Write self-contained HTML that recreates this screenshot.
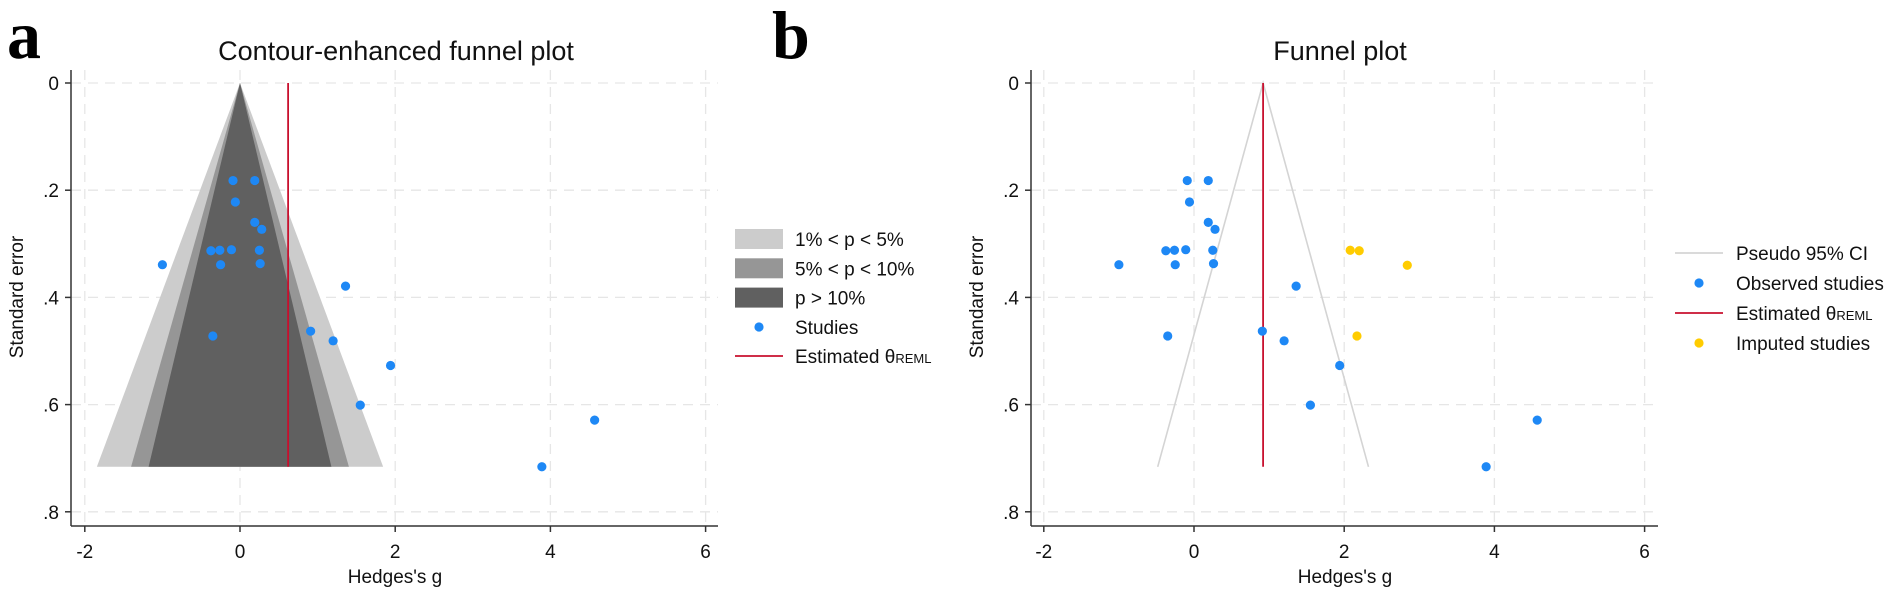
<!DOCTYPE html>
<html><head><meta charset="utf-8"><style>
html,body{margin:0;padding:0;background:#fff;}
svg{display:block;font-family:"Liberation Sans",Arial,sans-serif;}
</style></head><body>
<svg id="chart" width="1902" height="595" viewBox="0 0 1902 595" xmlns="http://www.w3.org/2000/svg"></svg>
<script>
// ---- data ----
const studyG = [-0.09,0.19,-0.06,0.19,0.28,-0.375,-0.26,-0.11,0.25,-0.25,0.26,-1.0,1.36,-0.35,0.91,1.20,1.94,1.55,4.57,3.89];
const studySE = [0.182,0.182,0.222,0.26,0.273,0.313,0.312,0.311,0.312,0.339,0.337,0.339,0.379,0.472,0.463,0.481,0.527,0.601,0.629,0.716];
const imputedG = [2.08,2.20,2.17,2.84];
const imputedSE = [0.312,0.313,0.472,0.34];
const thetaA = 0.62;
const thetaB = 0.92;
const maxSE = 0.716;
const xTicks = [-2,0,2,4,6];
const yTicks = [0,0.2,0.4,0.6,0.8];
const yTickLabels = ["0",".2",".4",".6",".8"];
const zLevels = [2.576,1.96,1.645];

const NS = "http://www.w3.org/2000/svg";
const svg = document.getElementById('chart');
function mk(tag, attrs, parent, text){
  const e = document.createElementNS(NS, tag);
  for (const k in attrs) e.setAttribute(k, attrs[k]);
  if (text !== undefined) e.textContent = text;
  (parent||svg).appendChild(e);
  return e;
}

function panel(cfg){
  const g = mk('g', {});
  
  
  const X = v => cfg.x0 + v*cfg.kx;
  const Y = v => 83 + v*536;
  yTicks.forEach(t=>{
    const l = mk('line',{x1:cfg.axL,x2:cfg.axR,y1:Y(t),y2:Y(t),stroke:'#e6e6e6','stroke-width':1.3,'stroke-dasharray':'10 7'},g);
    
    
  });
  xTicks.forEach(t=>{
    const l = mk('line',{x1:X(t),x2:X(t),y1:70,y2:523,stroke:'#e6e6e6','stroke-width':1.3,'stroke-dasharray':'10 7'},g);
    
    
  });
  cfg.draw(g, X, Y);
  const ay = mk('line',{x1:cfg.axL,x2:cfg.axL,y1:70,y2:526,stroke:'#333','stroke-width':1.5},g);
  
  
  const ax = mk('line',{x1:cfg.axL,x2:cfg.axR,y1:526,y2:526,stroke:'#333','stroke-width':1.5},g);
  
  
  yTicks.forEach((t,i)=>{
    mk('line',{x1:cfg.axL-6,x2:cfg.axL,y1:Y(t),y2:Y(t),stroke:'#333','stroke-width':1.5},g);
    const tx = mk('text',{x:cfg.axL-12,y:Y(t)+7,'text-anchor':'end','font-size':19,fill:'#111'},g,yTickLabels[i]);
    
    
  });
  xTicks.forEach(t=>{
    mk('line',{x1:X(t),x2:X(t),y1:526,y2:532,stroke:'#333','stroke-width':1.5},g);
    const tx = mk('text',{x:X(t),y:558,'text-anchor':'middle','font-size':19,fill:'#111'},g,String(t));
    
    
  });
  const xt = mk('text',{x:cfg.xTitleX,y:583,'text-anchor':'middle','font-size':19,fill:'#111'},g,"Hedges's g");
  
  
  const yt = mk('text',{x:0,y:0,'text-anchor':'middle','font-size':19,fill:'#111',transform:`translate(${cfg.axL-48},297) rotate(-90)`},g,"Standard error");
  
  
  const tt = mk('text',{x:cfg.titleX,y:60,'text-anchor':'middle','font-size':27,fill:'#111'},g,cfg.title);
  
  
  const pl = mk('text',{x:cfg.letterX,y:58,'font-size':68,'font-weight':'bold','font-family':'"Liberation Serif",serif',fill:'#000'},g,cfg.letter);
  
  
}

function dot(g,x,y,color,name){
  const c = mk('circle',{cx:x,cy:y,r:4.6,fill:color},g);
  
  
}

panel({name:'panel-a', x0:240, kx:77.6, axL:71, axR:718, titleX:396, xTitleX:395, title:'Contour-enhanced funnel plot', letter:'a', letterX:7,
  draw:(g,X,Y)=>{
    const fills=['#cccccc','#969696','#606060'];
    zLevels.forEach((z,i)=>{
      const w = z*maxSE;
      const p = mk('polygon',{points:`${X(0)},${Y(0)} ${X(w)},${Y(maxSE)} ${X(-w)},${Y(maxSE)}`,fill:fills[i]},g);
      
      
    });
    const rl = mk('line',{x1:X(thetaA),x2:X(thetaA),y1:Y(0),y2:Y(maxSE),stroke:'#c8102e','stroke-width':1.8},g);
    
    
    studyG.forEach((v,i)=>dot(g,X(v),Y(studySE[i]),'#1e88f5','study-point'));
  }});

panel({name:'panel-b', x0:1194, kx:75.1, axL:1031, axR:1658, titleX:1340, xTitleX:1345, title:'Funnel plot', letter:'b', letterX:772,
  draw:(g,X,Y)=>{
    const w = 1.96*maxSE;
    const ci = mk('polyline',{points:`${X(thetaB-w)},${Y(maxSE)} ${X(thetaB)},${Y(0)} ${X(thetaB+w)},${Y(maxSE)}`,fill:'none',stroke:'#d4d4d4','stroke-width':1.6},g);
    
    
    const rl = mk('line',{x1:X(thetaB),x2:X(thetaB),y1:Y(0),y2:Y(maxSE),stroke:'#c8102e','stroke-width':1.8},g);
    
    
    studyG.forEach((v,i)=>dot(g,X(v),Y(studySE[i]),'#1e88f5','observed-study-point'));
    imputedG.forEach((v,i)=>dot(g,X(v),Y(imputedSE[i]),'#ffcc00','imputed-study-point'));
  }});

function legendText(g,x,y,t,sub){
  const tx = mk('text',{x:x,y:y+7,'font-size':19,fill:'#111'},g,t);
  if(sub){ mk('tspan',{'font-size':13},tx,sub); }
  return tx;
}
const la = mk('g',{});


[['#cccccc','1% < p < 5%'],['#969696','5% < p < 10%'],['#606060','p > 10%']].forEach((d,i)=>{
  const y=239+i*29.3;
  mk('rect',{x:735,y:y-10,width:48,height:20,fill:d[0]},la);
  const t=legendText(la,795,y,d[1]);
  
  
});
mk('circle',{cx:759,cy:327,r:4.6,fill:'#1e88f5'},la);
let t1=legendText(la,795,327,'Studies');


mk('line',{x1:735,x2:783,y1:356,y2:356,stroke:'#c8102e','stroke-width':1.8},la);
let t2=legendText(la,795,356,'Estimated θ','REML');



const lb = mk('g',{});


mk('line',{x1:1675,x2:1723,y1:253,y2:253,stroke:'#d4d4d4','stroke-width':1.8},lb);
let b1=legendText(lb,1736,253,'Pseudo 95% CI');


mk('circle',{cx:1699,cy:283,r:4.6,fill:'#1e88f5'},lb);
let b2=legendText(lb,1736,283,'Observed studies');


mk('line',{x1:1675,x2:1723,y1:313,y2:313,stroke:'#c8102e','stroke-width':1.8},lb);
let b3=legendText(lb,1736,313,'Estimated θ','REML');


mk('circle',{cx:1699,cy:343,r:4.6,fill:'#ffcc00'},lb);
let b4=legendText(lb,1736,343,'Imputed studies');


</script>
</body></html>
